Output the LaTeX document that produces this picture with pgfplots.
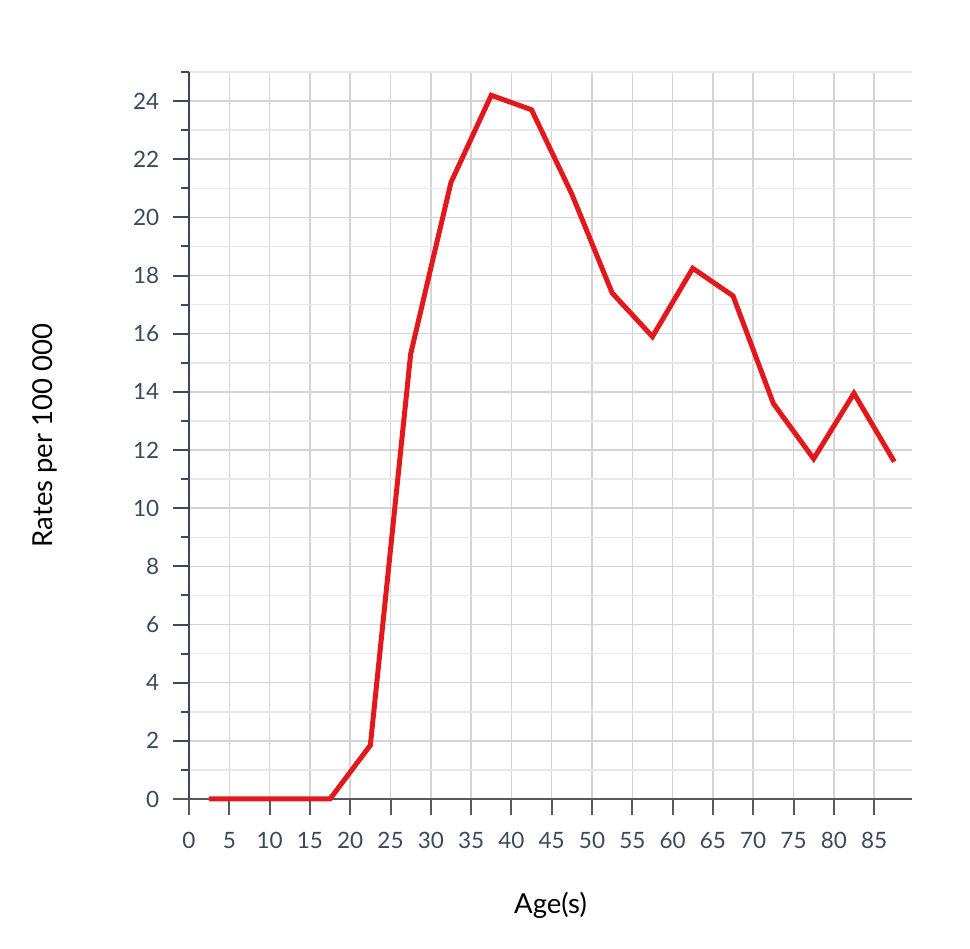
\documentclass[border=0pt]{standalone}
\usepackage{pgfplots}
\pgfplotsset{compat=1.18}
\usepackage{fontspec}
\setmainfont{Lato}[Numbers={Lining}]
\definecolor{tickc}{HTML}{3A4A5C}
\definecolor{linec}{HTML}{E3181C}
\begin{document}
\begin{tikzpicture}[x=1pt,y=1pt]
\path[use as bounding box] (-75.6,-60) rectangle (312.4,319.6);
\begin{axis}[
  at={(0,0)}, anchor=south west,
  scale only axis, width=289.2pt, height=290.8pt,
  xmin=0, xmax=89.7, ymin=0, ymax=25,
  axis lines*=left,
  xtick={0,5,...,85}, ytick={0,2,...,24}, minor ytick={1,3,...,25},
  grid=both,
  major grid style={color=black!17, line width=0.6pt},
  minor grid style={color=black!9, line width=0.6pt},
  tick align=outside,
  major tick length=6.4pt, minor tick length=3.2pt,
  xtick style={color=black!65, line width=0.8pt},
  ytick style={color=tickc, line width=0.8pt},
  x axis line style={color=black!65, line width=0.8pt, shorten <=-6.4pt},
  y axis line style={color=tickc, line width=0.8pt},
  /pgf/number format/assume math mode=true,
  tick label style={font=\fontsize{9}{10}\selectfont, color=tickc},
  xticklabel style={yshift=-3.2pt, text height=6.6pt, text depth=0pt},
  yticklabel style={xshift=-2pt},
  xlabel={Age(s)}, ylabel={Rates per 100 000},
  label style={font=\fontsize{11}{13}\selectfont, color=black},
  xlabel style={at={(axis description cs:0.5,-0.146)}, anchor=center},
  ylabel style={at={(axis description cs:-0.199,0.5)}, anchor=center},
  clip=false,
]
\addplot[color=linec, line width=2pt, line join=miter] coordinates {
(2.5,0) (7.5,0) (12.5,0) (17.5,0) (22.5,1.85) (27.5,15.3) (32.5,21.2)
(37.5,24.2) (42.5,23.7) (47.5,20.8) (52.5,17.4) (57.5,15.9) (62.5,18.25)
(67.5,17.3) (72.5,13.6) (77.5,11.7) (82.5,13.95) (87.5,11.6)
};
\end{axis}
\end{tikzpicture}
\end{document}
